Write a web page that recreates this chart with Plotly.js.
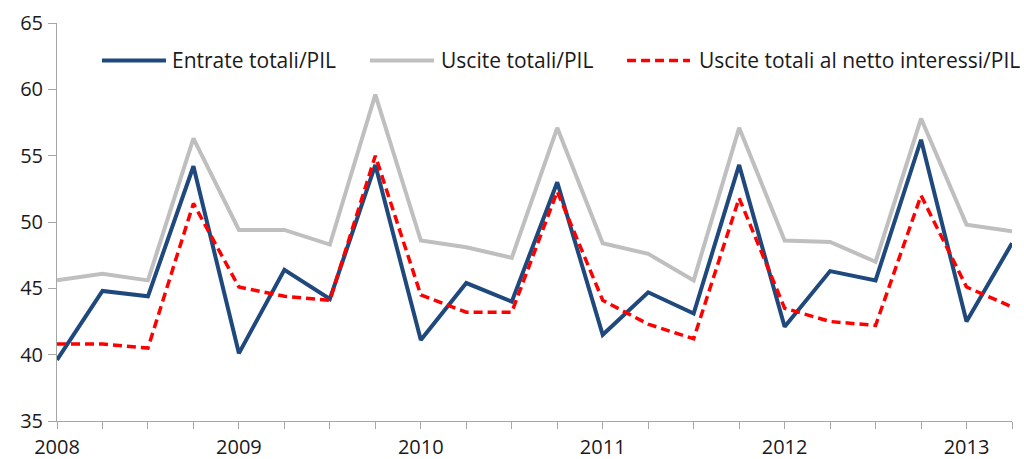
<!DOCTYPE html>
<html><head><meta charset="utf-8">
<script src="https://cdn.plot.ly/plotly-3.0.1.min.js"></script>
<style>html,body{margin:0;padding:0;background:#fff}#chart{width:1024px;height:459px}</style>
</head><body><div id="chart"></div>
<script>
const quarters = [
  '2008-T1','2008-T2','2008-T3','2008-T4',
  '2009-T1','2009-T2','2009-T3','2009-T4',
  '2010-T1','2010-T2','2010-T3','2010-T4',
  '2011-T1','2011-T2','2011-T3','2011-T4',
  '2012-T1','2012-T2','2012-T3','2012-T4',
  '2013-T1','2013-T2'
];
const yearLabels = ['2008','','','','2009','','','','2010','','','','2011','','','','2012','','','','2013',''];
const entrate = [39.6,44.8,44.4,54.2, 40.1,46.4,44.2,54.3, 41.1,45.4,44.0,53.0, 41.5,44.7,43.1,54.3, 42.1,46.3,45.6,56.2, 42.5,48.4];
const uscite  = [45.6,46.1,45.6,56.3, 49.4,49.4,48.3,59.6, 48.6,48.1,47.3,57.1, 48.4,47.6,45.6,57.1, 48.6,48.5,47.0,57.8, 49.8,49.3];
const usciteNetto = [40.8,40.8,40.5,51.4, 45.1,44.4,44.1,55.0, 44.5,43.2,43.2,52.3, 44.1,42.3,41.2,51.8, 43.5,42.5,42.2,52.0, 45.1,43.6];
const names = ['Entrate totali/PIL','Uscite totali/PIL','Uscite totali al netto interessi/PIL'];
const colors = ['#1F497D','#BFBFBF','#FF0000'];

const FONT = '"Open Sans", Lato, sans-serif';
const traces = [
  {x: quarters, y: entrate, name: names[0], type: 'scatter', mode: 'lines',
   line: {color: colors[0], width: 4}},
  {x: quarters, y: uscite, name: names[1], type: 'scatter', mode: 'lines',
   line: {color: colors[1], width: 4}},
  {x: quarters, y: usciteNetto, name: names[2], type: 'scatter', mode: 'lines',
   line: {color: colors[2], width: 3.5, dash: '9px,5px'}}
];

// custom legend (paper coordinates)
const legendItems = [
  {x0: 0.0471, x1: 0.1141, tx: 0.1183},
  {x0: 0.3277, x1: 0.3948, tx: 0.4000},
  {x0: 0.5969, x1: 0.6628, tx: 0.6702}
];
const ly = 0.906;
const shapes = legendItems.map((it, i) => ({
  type: 'line', xref: 'paper', yref: 'paper', x0: it.x0, x1: it.x1, y0: ly, y1: ly,
  line: {color: colors[i], width: i === 2 ? 3.5 : 4, dash: i === 2 ? '9px,5px' : 'solid'}
}));
const annotations = legendItems.map((it, i) => ({
  xref: 'paper', yref: 'paper', x: it.tx, y: ly, xanchor: 'left', yanchor: 'middle',
  text: names[i], showarrow: false, font: {family: FONT, size: 21, color: '#1a1a1a'}
}));

const layout = {
  width: 1024, height: 459,
  margin: {l: 57, r: 12, t: 23, b: 38},
  paper_bgcolor: '#fff', plot_bgcolor: '#fff',
  showlegend: false,
  font: {family: FONT, size: 20, color: '#1a1a1a'},
  xaxis: {
    type: 'category', range: [0, 21],
    tickmode: 'array', tickvals: quarters, ticktext: yearLabels,
    showline: true, linecolor: '#a6a6a6', linewidth: 1,
    ticks: 'outside', ticklen: 7, tickcolor: '#a6a6a6', tickwidth: 1,
    showgrid: false, zeroline: false, ticklabelstandoff: 1,
    tickfont: {family: FONT, size: 20, color: '#1a1a1a'}
  },
  yaxis: {
    range: [35, 65], dtick: 5, tick0: 35,
    showline: true, linecolor: '#a6a6a6', linewidth: 1,
    ticks: 'outside', ticklen: 8, tickcolor: '#a6a6a6', tickwidth: 1,
    showgrid: false, zeroline: false, ticklabelstandoff: 1,
    tickfont: {family: FONT, size: 20, color: '#1a1a1a'}
  },
  shapes: shapes,
  annotations: annotations
};
Plotly.newPlot('chart', traces, layout, {displayModeBar: false, staticPlot: true});
</script>
</body></html>
